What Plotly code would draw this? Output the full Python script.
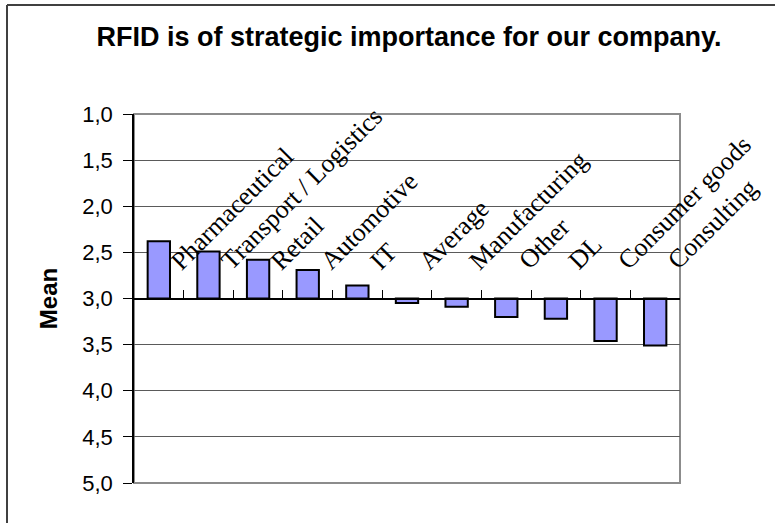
import plotly.graph_objects as go

# Survey: "RFID is of strategic importance for our company." (1 = agree, 5 = disagree)
categories = ["Pharmaceutical", "Transport / Logistics", "Retail", "Automotive", "IT",
              "Average", "Manufacturing", "Other", "DL", "Consumer goods", "Consulting"]
means = [2.38, 2.49, 2.58, 2.69, 2.86, 3.05, 3.09, 3.20, 3.22, 3.46, 3.51]
y_ticks = [1.0, 1.5, 2.0, 2.5, 3.0, 3.5, 4.0, 4.5, 5.0]

midpoint = 3.0          # bars grow from the scale midpoint
label_level = 2.78      # height at which the category names are written

W, H = 775, 523
ML, MR, MT, MB = 134, 95, 114, 40

fig = go.Figure()
fig.add_trace(go.Bar(
    x=categories,
    y=[m - midpoint for m in means],
    base=midpoint,
    marker=dict(color="#9999FF", line=dict(color="black", width=2)),
    width=0.45,
    hovertemplate="%{x}: %{customdata:.2f}<extra></extra>",
    customdata=means,
))

# category names written diagonally above each bar
for c in categories:
    fig.add_annotation(
        x=c, y=label_level, xref="x", yref="y",
        text=c, showarrow=False, textangle=-45,
        xanchor="left", yanchor="bottom", xshift=4,
        font=dict(family="Liberation Serif, Times New Roman, serif", size=26, color="black"),
    )

# outer chart frame (left and top edges)
def px_x(p):
    return (p - ML) / (W - ML - MR)

def px_y(p):
    return 1 - (p - MT) / (H - MT - MB)

fig.add_shape(type="line", xref="paper", yref="paper",
              x0=px_x(7), x1=px_x(W + 5), y0=px_y(5), y1=px_y(5),
              line=dict(color="#404040", width=2))
fig.add_shape(type="line", xref="paper", yref="paper",
              x0=px_x(7), x1=px_x(7), y0=px_y(5), y1=px_y(H + 5),
              line=dict(color="#404040", width=2))

# plot area border
fig.add_shape(type="rect", xref="x domain", yref="y domain",
              x0=0, x1=1, y0=0, y1=1, layer="below",
              line=dict(color="#8c8c8c", width=2))

fig.update_layout(
    width=W, height=H,
    margin=dict(l=ML, r=MR, t=MT, b=MB),
    paper_bgcolor="white", plot_bgcolor="white",
    separators=",.",
    showlegend=False,
    bargap=0.55,
    title=dict(
        text="<b>RFID is of strategic importance for our company.</b>",
        x=409 / W, xanchor="center", y=1 - 37 / H, yanchor="middle",
        font=dict(family="Liberation Sans, Arial, sans-serif", size=27, color="black"),
    ),
    xaxis=dict(
        type="category",
        range=[-0.5, len(categories) - 0.5],
        anchor="free", position=0.5,
        showline=True, linecolor="black", linewidth=1.5,
        ticks="inside", tickson="boundaries", ticklen=8, tickcolor="black", tickwidth=1,
        showticklabels=False, showgrid=False, zeroline=False,
    ),
    yaxis=dict(
        range=[5, 1],
        tickvals=y_ticks, tickformat=".1f",
        showline=True, linecolor="black", linewidth=1.5,
        ticks="outside", ticklen=9, tickcolor="black", tickwidth=1,
        ticklabelstandoff=6,
        showgrid=True, gridcolor="#5a5a5a", gridwidth=1,
        zeroline=False,
        tickfont=dict(family="Liberation Sans, Arial, sans-serif", size=22, color="black"),
        title=dict(text="<b>Mean</b>", standoff=18,
                   font=dict(family="Liberation Sans, Arial, sans-serif", size=24, color="black")),
    ),
)

fig.write_html("out.html")
